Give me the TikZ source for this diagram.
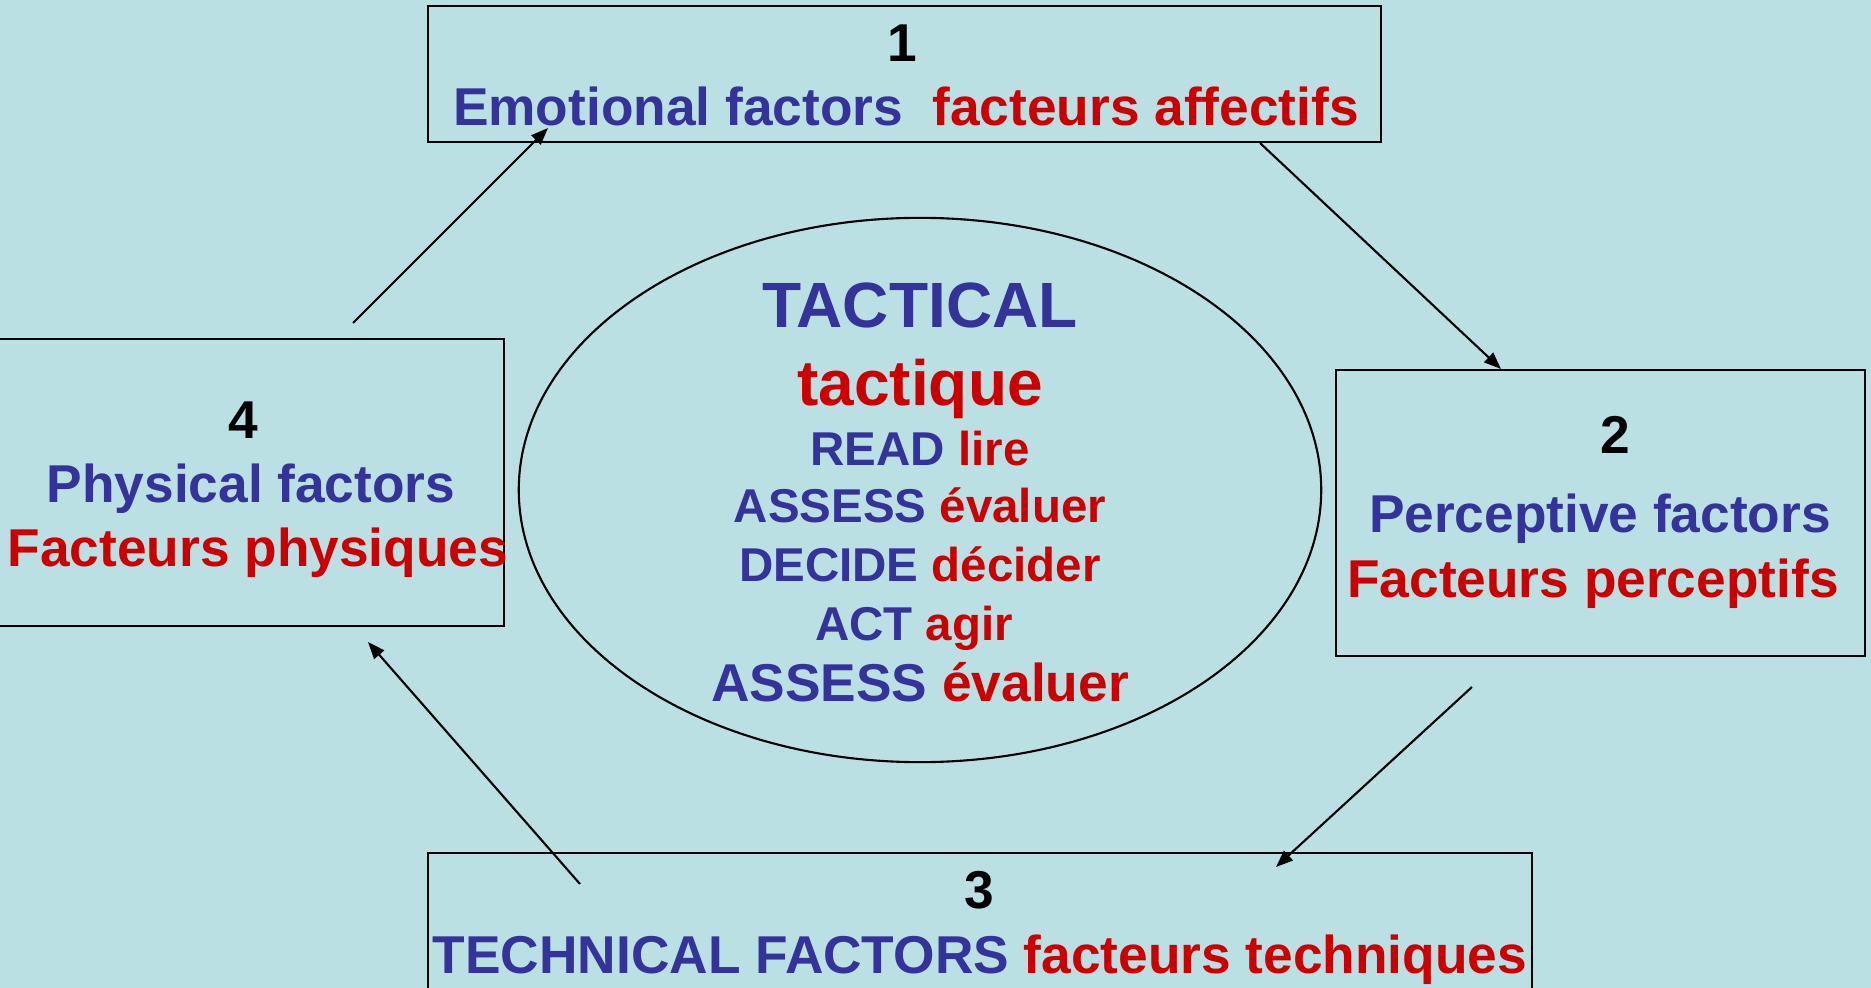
\documentclass[tikz,border=0pt]{standalone}
\usepackage{fontspec}
\setmainfont{Liberation Sans}
\usetikzlibrary{arrows.meta,shapes.geometric}
\definecolor{bgc}{RGB}{187,224,227}
\definecolor{tblue}{RGB}{51,51,153}
\definecolor{tred}{RGB}{204,0,0}
\newcommand{\bl}[1]{{\color{tblue}#1}}
\newcommand{\rd}[1]{{\color{tred}#1}}
\begin{document}
\begin{tikzpicture}[x=0.01cm,y=-0.01cm,
  boxshape/.style={draw=black,line width=0.65pt,rectangle,inner sep=0pt,outer sep=0pt},
  txt/.style={anchor=base,inner sep=0pt,font=\bfseries\fontsize{15.15pt}{18pt}\selectfont},
  small/.style={anchor=base,inner sep=0pt,font=\bfseries\fontsize{13.5pt}{16pt}\selectfont},
  big/.style={anchor=base,inner sep=0pt,font=\bfseries\fontsize{18.2pt}{22pt}\selectfont},
  conn/.style={draw=black,line width=0.6pt,-{Triangle[length=1.7mm,width=1.3mm]}}]
\useasboundingbox (0,0) rectangle (1871,988);
\fill[bgc] (0,0) rectangle (1871,988);
% boxes
\node[boxshape,minimum width=9.53cm,minimum height=1.36cm] (box1) at (904.5,74) {};
\node[boxshape,minimum width=5.29cm,minimum height=2.86cm] (box2) at (1600.5,513) {};
\node[boxshape,minimum width=11.04cm,minimum height=1.47cm] (box3) at (980,926.5) {};
\node[boxshape,minimum width=5.14cm,minimum height=2.87cm] (box4) at (247,482.5) {};
\node[draw=black,line width=0.6pt,ellipse,inner sep=0pt,minimum width=8.02cm,minimum height=5.44cm] (ell) at (920,490) {};
% box texts
\node[txt] (n1) at (902,62) {1};
\node[txt] (t1) at (906,126) {\bl{Emotional factors}\ \ \rd{facteurs affectifs}};
\node[txt] (n2) at (1615,454) {2};
\node[txt] (t2a) at (1600,533) {\bl{Perceptive factors}};
\node[txt] (t2b) at (1593,597) {\rd{Facteurs perceptifs}};
\node[txt] (n3) at (979,909) {3};
\node[txt] (t3) at (980,973) {\bl{TECHNICAL FACTORS} \rd{facteurs techniques}};
\node[txt] (n4) at (243,439) {4};
\node[txt] (t4a) at (251,503) {\bl{Physical factors}};
\node[txt] (t4b) at (258,567) {\rd{Facteurs physiques}};
% ellipse texts
\node[big] (e1) at (920,328) {\bl{TACTICAL}};
\node[big] (e2) at (920,406) {\rd{tactique}};
\node[small] (e3) at (920,466) {\bl{READ} \rd{lire}};
\node[small] (e4) at (920,523) {\bl{ASSESS} \rd{évaluer}};
\node[small] (e5) at (920,582) {\bl{DECIDE} \rd{décider}};
\node[small] (e6) at (914,640) {\bl{ACT} \rd{agir}};
\node[txt] (e7) at (920,702) {\bl{ASSESS} \rd{évaluer}};
% connector ends
\coordinate (a1s) at (353,323);
\coordinate (a1e) at (548,128);
\coordinate (a2s) at (1260,143);
\coordinate (a2e) at (1501,369);
\coordinate (a3s) at (1472,687);
\coordinate (a3e) at (1276,867);
\coordinate (a4s) at (580,884);
\coordinate (a4e) at (368,642);
\draw[conn] (a1s) -- (a1e);
\draw[conn] (a2s) -- (a2e);
\draw[conn] (a3s) -- (a3e);
\draw[conn] (a4s) -- (a4e);
\end{tikzpicture}
\end{document}
